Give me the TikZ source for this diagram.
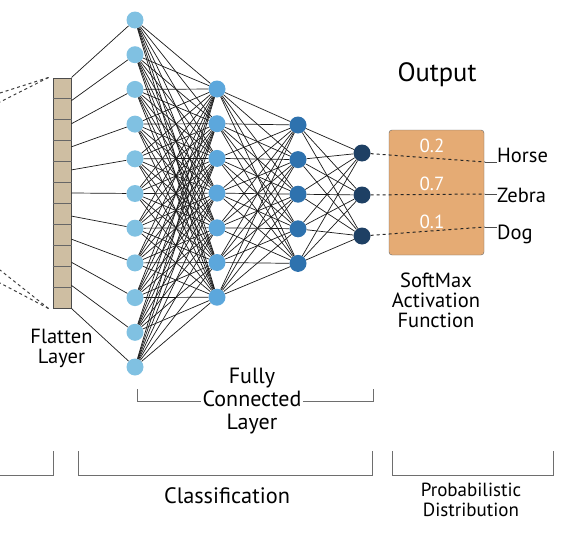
\documentclass[tikz,border=0pt]{standalone}
\usepackage{fontspec}
\setmainfont{PT Sans}
\usetikzlibrary{calc}

\definecolor{layA}{RGB}{128,193,226}
\definecolor{layB}{RGB}{92,167,220}
\definecolor{layC}{RGB}{46,114,174}
\definecolor{layD}{RGB}{30,64,100}
\definecolor{flatfill}{RGB}{206,190,162}
\definecolor{softfill}{RGB}{229,171,116}
\definecolor{brack}{RGB}{110,110,110}

\tikzset{
  neuron/.style={circle, minimum size=17pt, inner sep=0pt},
  wire/.style={black!90, line width=0.7pt},
  brace/.style={brack, line width=0.9pt},
  lbl/.style={align=center, font=\fontsize{20.5}{20}\selectfont},
  prob/.style={text=white, font=\fontsize{19}{20}\selectfont}
}

\begin{document}
\begin{tikzpicture}[x=1pt,y=-1pt]
    \useasboundingbox (0,0) rectangle (584,538);

    % Flatten layer (column of 11 cells)
    \node[draw=black!70, fill=flatfill, line width=1pt, minimum width=18pt, minimum height=230pt, inner sep=0pt] (flat) at (62,193) {};
    \foreach \k in {1,...,10}
        \draw[black!60, line width=1pt] ($(flat.north west)!\k/11!(flat.south west)$) -- ($(flat.north east)!\k/11!(flat.south east)$);
    \node[lbl] (flatlbl) at (61.5,348) {Flatten\\Layer};

    % Dashed lines coming from the left (cut at the border)
    \coordinate (lt1) at (0,93);
    \coordinate (lt2) at (0,102);
    \coordinate (lb1) at (0,270);
    \coordinate (lb2) at (0,283);
    \draw[dashed, black!75, line width=1pt] ([xshift=-4pt]flat.north west) -- (lt1);
    \draw[dashed, black!75, line width=1pt] ([xshift=-4pt]flat.north west) -- (lt2);
    \draw[dashed, black!75, line width=1pt] ([xshift=-4pt]flat.south west) -- (lb1);
    \draw[dashed, black!75, line width=1pt] ([xshift=-4pt]flat.south west) -- (lb2);

    % Fully connected layers
    \foreach \i in {1,...,11}
        \node[neuron, fill=layA] (a\i) at (135,{20+(\i-1)*34.7}) {};
    \foreach \i in {1,...,7}
        \node[neuron, fill=layB] (b\i) at (217,{89+(\i-1)*34.7}) {};
    \foreach \i in {1,...,5}
        \node[neuron, fill=layC] (c\i) at (298,{125+(\i-1)*34.6}) {};
    \node[neuron, fill=layD] (d1) at (362,153) {};
    \node[neuron, fill=layD] (d2) at (362,195) {};
    \node[neuron, fill=layD] (d3) at (362,236) {};

    % Flatten cells to first layer
    \foreach \i in {1,...,11}
        \draw[wire] ($(flat.north east)!{(\i-1)/10}!(flat.south east)$) -- (a\i);

    % All-to-all connections
    \foreach \i in {1,...,11}
        \foreach \j in {1,...,7}
            \draw[wire] (a\i) -- (b\j);
    \foreach \i in {1,...,7}
        \foreach \j in {1,...,5}
            \draw[wire] (b\i) -- (c\j);
    \foreach \i in {1,...,5}
        \foreach \j in {1,...,3}
            \draw[wire] (c\i) -- (d\j);

    % SoftMax box and output
    \node[font=\fontsize{26.5}{28}\selectfont] (outlbl) at (437,75) {Output};
    \node[draw=black!60, fill=softfill, rounded corners=3pt, minimum width=95pt, minimum height=125pt] (soft) at (436.5,192.5) {};
    \node[prob] (p1) at (432,146) {0.2};
    \node[prob] (p2) at (432,184) {0.7};
    \node[prob] (p3) at (432,222) {0.1};
    \node[lbl, anchor=base west, inner sep=0pt] (horse) at (497,162) {Horse};
    \node[lbl, anchor=base west, inner sep=0pt] (zebra) at (497,202) {Zebra};
    \node[lbl, anchor=base west, inner sep=0pt] (dog) at (497,239) {Dog};
    \node[lbl] (softlbl) at (436,300) {SoftMax\\Activation\\Function};

    % Output lines to the class labels
    \coordinate (h1) at (485,162);
    \coordinate (h2) at (485,194);
    \coordinate (h3) at (485,227);
    \draw[dashed, black!85, line width=1pt] (d1) -- (h1);
    \draw[dashed, black!85, line width=1pt] (d2) -- (h2);
    \draw[dashed, black!85, line width=1pt] (d3) -- (h3);
    \draw[black!70, line width=1pt] (h1) -- (h1 -| horse.west);
    \draw[black!70, line width=1pt] (h2) -- (h2 -| zebra.west);
    \draw[black!70, line width=1pt] (h3) -- (h3 -| dog.west);

    % Fully connected bracket
    \node[lbl, font=\fontsize{22}{23}\selectfont, fill=white, inner sep=1pt] (fclbl) at (252,401) {Fully\\Connected\\Layer};
    \coordinate (fcl) at (137,389);
    \coordinate (fcr) at (373,389);
    \draw[brace] (fcl) |- (fclbl.west);
    \draw[brace] (fcr) |- (fclbl.east);

    % Bottom brackets
    \draw[brace] (0,475) -- (53,475) -- (53,451);
    \draw[brace] (78,451) -- (78,475) -- (372,475) -- (372,451);
    \draw[brace] (392,451) -- (392,475) -- (553,475) -- (553,451);
    \node[font=\fontsize{22.3}{24}\selectfont] (clslbl) at (227,496) {Classification};
    \node[lbl, font=\fontsize{19}{20}\selectfont] (problbl) at (471,500) {Probabilistic\\Distribution};
\end{tikzpicture}
\end{document}
